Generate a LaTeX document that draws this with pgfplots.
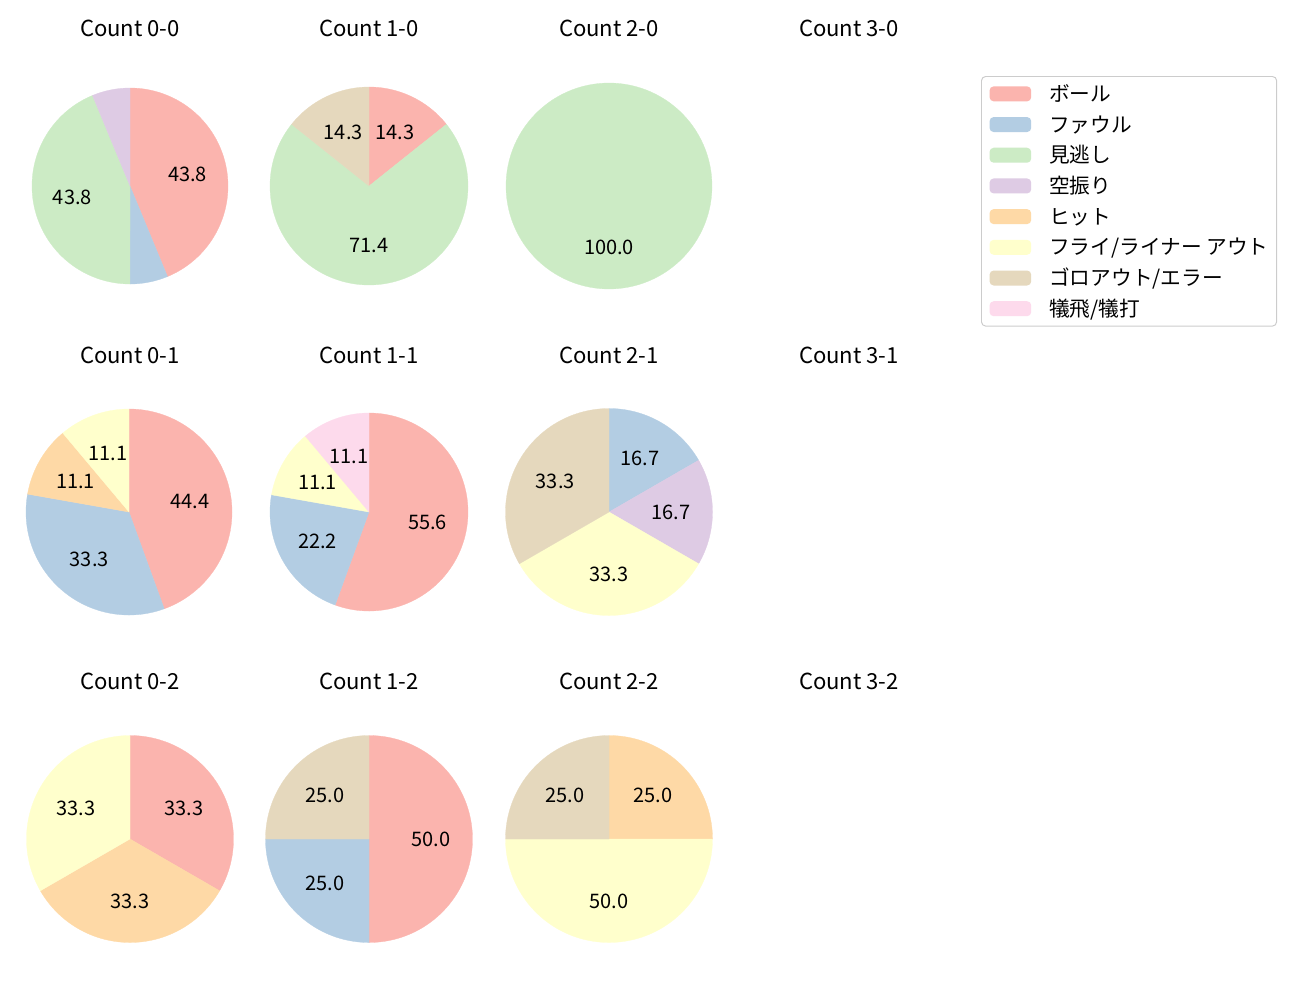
\documentclass[border=0pt]{standalone}
\usepackage{fontspec}
\setmainfont{Noto Sans CJK JP}
\usepackage{pgfplots}
\pgfplotsset{compat=1.18}

\definecolor{cBall}{HTML}{FBB4AE}
\definecolor{cFoul}{HTML}{B3CDE3}
\definecolor{cMinog}{HTML}{CCEBC5}
\definecolor{cKara}{HTML}{DECBE4}
\definecolor{cHit}{HTML}{FED9A6}
\definecolor{cFly}{HTML}{FFFFCC}
\definecolor{cGoro}{HTML}{E5D8BD}
\definecolor{cGi}{HTML}{FDDAEC}

\newcommand\lab{\fontsize{14.4}{17}\selectfont}
\newcommand\leg{\fontsize{14.9}{17}\selectfont}
\newcommand\ttl{\fontsize{15.9}{19}\selectfont}

\pgfplotsset{pie/.style={hide axis, clip=false, xmin=-1, xmax=1, ymin=-1, ymax=1, anchor=center}}

% one wedge, clockwise from 12 o'clock: value (percent), colour, label
\newcommand\slice[3]{%
  \pgfmathsetmacro\pSa{90-3.6*(\cum+#1)}%
  \pgfmathsetmacro\pSb{90-3.6*\cum}%
  \pgfmathsetmacro\pLx{0.6*cos((\pSa+\pSb)/2)}%
  \pgfmathsetmacro\pLy{0.6*sin((\pSa+\pSb)/2)}%
  \edef\doslice{%
    \noexpand\addplot[fill=#2, draw=#2, line width=0.2pt, domain=\pSa:\pSb, samples=120, variable=\noexpand\t]
      ({cos(\noexpand\t)},{sin(\noexpand\t)}) -- (axis cs:0,0) -- cycle;
    \noexpand\node[font=\noexpand\lab] at (axis cs:\pLx,\pLy) {#3};}%
  \doslice
  \pgfmathsetmacro\pTmp{\cum+#1}\global\let\cum\pTmp}

% centre x, centre y, radius (pixels), wedges
\newcommand\pie[4]{%
  \pgfmathsetmacro\pR{#3*0.72}%
  \begin{axis}[pie, at={({#1*0.72pt},{-#2*0.72pt})}, x=\pR pt, y=\pR pt]
  \gdef\cum{0}
  #4
  \end{axis}}

\begin{document}
\begin{tikzpicture}
\useasboundingbox (0,0) rectangle (936pt,-720pt);

% titles
\foreach \c/\x in {0/130,1/369,2/609,3/849}{
  \foreach \r/\y in {0/36,1/363,2/689}{
    \node[font=\ttl, anchor=base] at ({\x*0.72pt},{-\y*0.72pt}) {Count \c-\r};
  }
}

\pie{130}{186}{98}{\slice{43.75}{cBall}{43.8}\slice{6.25}{cFoul}{}\slice{43.75}{cMinog}{43.8}\slice{6.25}{cKara}{}}
\pie{369}{186}{99}{\slice{14.2857}{cBall}{14.3}\slice{71.4286}{cMinog}{71.4}\slice{14.2857}{cGoro}{14.3}}
\pie{609}{186}{103}{\slice{100}{cMinog}{100.0}}

\pie{129}{512}{103}{\slice{44.4444}{cBall}{44.4}\slice{33.3333}{cFoul}{33.3}\slice{11.1111}{cHit}{11.1}\slice{11.1111}{cFly}{11.1}}
\pie{369}{512}{99}{\slice{55.5556}{cBall}{55.6}\slice{22.2222}{cFoul}{22.2}\slice{11.1111}{cFly}{11.1}\slice{11.1111}{cGi}{11.1}}
\pie{609}{512}{103.5}{\slice{16.6667}{cFoul}{16.7}\slice{16.6667}{cKara}{16.7}\slice{33.3333}{cFly}{33.3}\slice{33.3333}{cGoro}{33.3}}

\pie{130}{839}{103.5}{\slice{33.3333}{cBall}{33.3}\slice{33.3333}{cHit}{33.3}\slice{33.3333}{cFly}{33.3}}
\pie{369}{839}{103.5}{\slice{50}{cBall}{50.0}\slice{25}{cFoul}{25.0}\slice{25}{cGoro}{25.0}}
\pie{609}{839}{103.5}{\slice{25}{cHit}{25.0}\slice{50}{cFly}{50.0}\slice{25}{cGoro}{25.0}}

% legend
\begin{axis}[at={({981*0.72pt},{-76*0.72pt})}, anchor=north west,
  hide axis, scale only axis, width=10pt, height=10pt,
  xmin=0, xmax=1, ymin=0, ymax=1,
  legend cell align=left,
  legend image code/.code={\fill[#1] (0pt,-5.4pt) rectangle (30pt,5.4pt);},
  legend style={at={(0,1)}, anchor=north west, draw=black!20, line width=0.7pt,
    rounded corners=3pt, font=\leg, inner xsep=5.8pt, inner ysep=6pt,
    row sep=9.1pt, column sep=13pt,
    nodes={inner sep=0pt, text height=12pt, text depth=1pt}}]
\addlegendimage{fill=cBall, draw=none}\addlegendentry{ボール}
\addlegendimage{fill=cFoul, draw=none}\addlegendentry{ファウル}
\addlegendimage{fill=cMinog, draw=none}\addlegendentry{見逃し}
\addlegendimage{fill=cKara, draw=none}\addlegendentry{空振り}
\addlegendimage{fill=cHit, draw=none}\addlegendentry{ヒット}
\addlegendimage{fill=cFly, draw=none}\addlegendentry{フライ/ライナー アウト\hspace{4pt}}
\addlegendimage{fill=cGoro, draw=none}\addlegendentry{ゴロアウト/エラー}
\addlegendimage{fill=cGi, draw=none}\addlegendentry{犠飛/犠打}
\end{axis}
\end{tikzpicture}
\end{document}
